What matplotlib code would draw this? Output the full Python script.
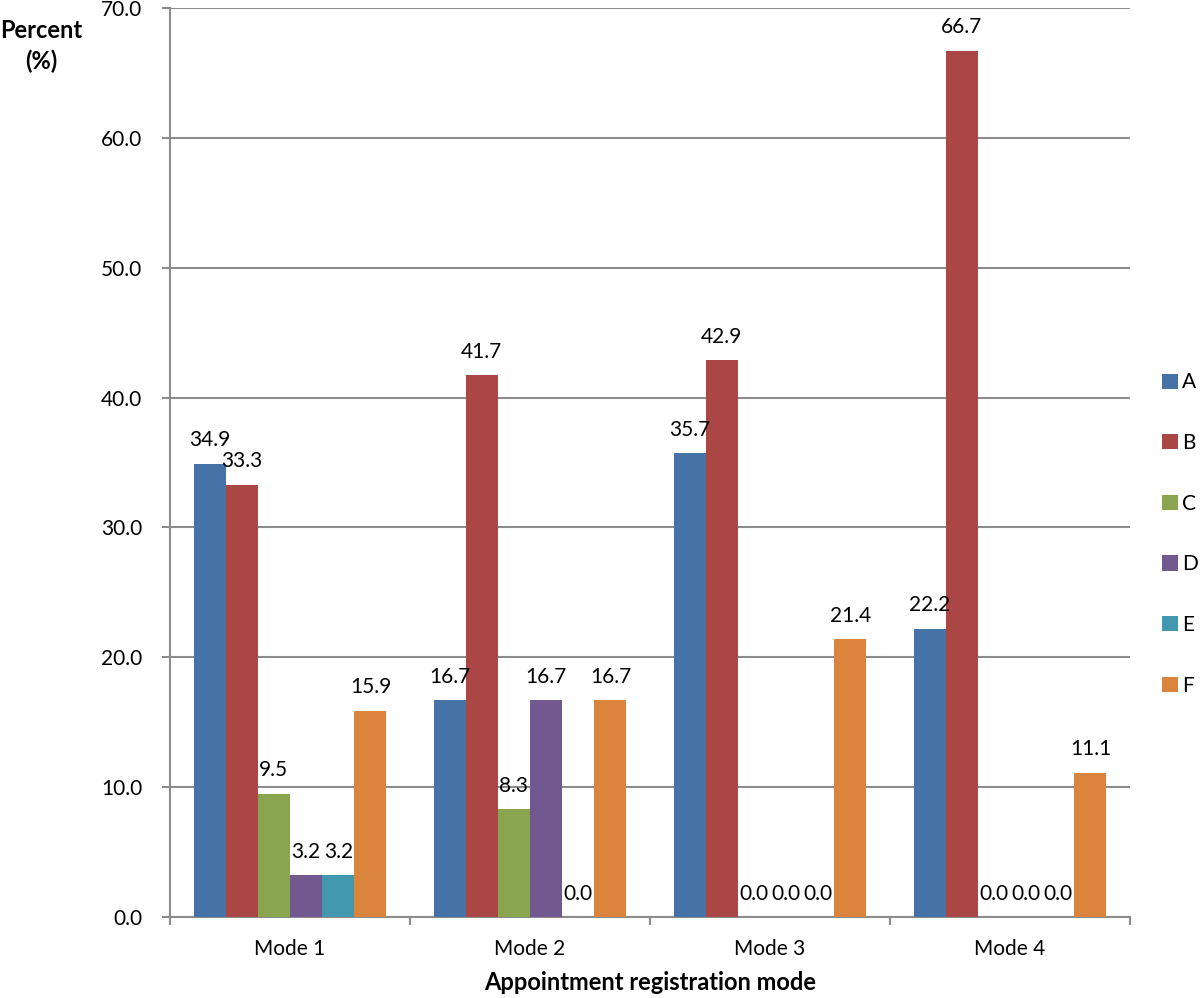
import matplotlib
matplotlib.use("Agg")
import matplotlib.pyplot as plt
import numpy as np
from matplotlib.patches import Patch

plt.rcParams['font.family'] = ['Lato', 'DejaVu Sans']

categories = ["Mode 1", "Mode 2", "Mode 3", "Mode 4"]
series_names = ["A", "B", "C", "D", "E", "F"]
A = [34.9, 16.7, 35.7, 22.2]
B = [33.3, 41.7, 42.9, 66.7]
C = [9.5, 8.3, 0.0, 0.0]
D = [3.2, 16.7, 0.0, 0.0]
E = [3.2, 0.0, 0.0, 0.0]
F = [15.9, 16.7, 21.4, 11.1]
series = [A, B, C, D, E, F]
colors = ["#4572A7", "#AA4643", "#89A54E", "#71588F", "#4198AF", "#DB843D"]
yticks = [0, 10, 20, 30, 40, 50, 60, 70]

fig = plt.figure(figsize=(12, 9.98), dpi=100)
ax = fig.add_axes([170/1200, 1-917/998, 960/1200, (917-8)/998])

x = np.arange(len(categories))
w = 0.134
gridc = "#8c8c8c"
fs = 15
for i, (vals, col) in enumerate(zip(series, colors)):
    pos = x + (i - 2.5) * w
    ax.bar(pos, vals, width=w, color=col, zorder=3, linewidth=0)
    for px_, v in zip(pos, vals):
        ax.annotate(f"{v:.1f}", (px_, v), xytext=(0, 12.5), textcoords="offset points",
                    ha="center", va="baseline", fontsize=fs, zorder=4)

ax.set_xlim(-0.5, 3.5)
ax.set_ylim(0, 70)
ax.set_yticks(yticks)
ax.set_yticklabels([f"{t:.1f}" for t in yticks], fontsize=fs)
ax.yaxis.grid(True, color=gridc, linewidth=1.5, zorder=0)
ax.set_axisbelow(True)
for s in ["top", "right"]:
    ax.spines[s].set_visible(False)
for s in ["left", "bottom"]:
    ax.spines[s].set_color(gridc)
    ax.spines[s].set_linewidth(1.5)
ax.tick_params(axis="y", length=6, width=1.5, color=gridc, pad=14)
ax.set_xticks(x)
ax.set_xticklabels(categories, fontsize=fs)
ax.tick_params(axis="x", which="major", length=0, pad=16)
ax.set_xticks(np.arange(-0.5, 4.0, 1.0), minor=True)
ax.tick_params(axis="x", which="minor", length=6, width=1.5, color=gridc)

fig.text(41/1200, 1-19/998, "Percent\n(%)", ha="center", va="top", fontsize=17,
         fontweight="bold", linespacing=1.4)
fig.text(650/1200, 1-983/998, "Appointment registration mode", ha="center", va="center",
         fontsize=17, fontweight="bold")

handles = [Patch(facecolor=c, edgecolor="none") for c in colors]
fig.legend(handles, series_names, loc="center left", bbox_to_anchor=(1162/1200, 1-534/998),
           frameon=False, fontsize=fs, handlelength=0.75, handleheight=0.75,
           handletextpad=0.2, labelspacing=1.95, borderaxespad=0, borderpad=0)

fig.savefig("out.png", dpi=100)
